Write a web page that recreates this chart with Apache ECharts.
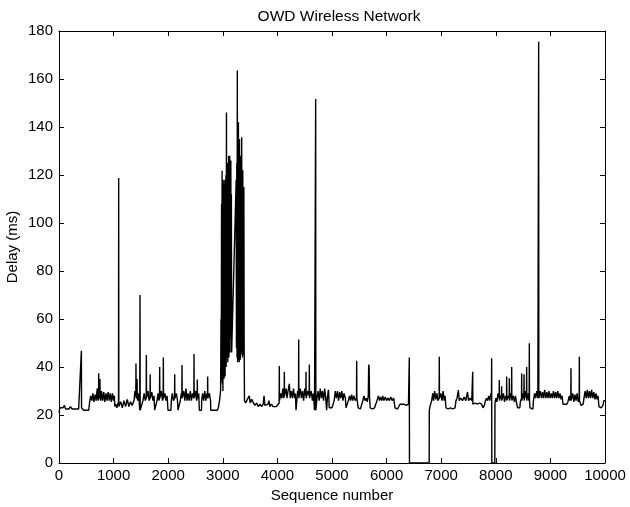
<!DOCTYPE html>
<html>
<head>
<meta charset="utf-8">
<script src="https://cdn.jsdelivr.net/npm/echarts@6/dist/echarts.min.js"></script>
<style>
    html, body { margin: 0; padding: 0; background: #fff; }
    #chart { width: 630px; height: 507px; }
</style>
</head>
<body>
<div id="chart"></div>
<script>
// axis ticks
var xTicks = { min: 0, max: 10000, step: 1000 };
var yTicks = { min: 0, max: 180, step: 20 };

// [sequence number, delay in ms]
var owdBeforeBurst = [
    [0, 21], [15, 23], [40, 22.5], [70, 23], [100, 24], [120, 22.5], [150, 23], [180, 22.5], [210, 23.5], [240, 22.5],
    [270, 23], [300, 22.5], [330, 23], [360, 22.5], [395, 23], [407, 23], [410, 46.8], [413, 23], [420, 23], [450, 22],
    [500, 22], [545, 22], [562, 25.5], [580, 28], [600, 26], [620, 29], [640, 25.5], [660, 28.5], [680, 26], [700, 31],
    [715, 26], [724, 27], [727, 37.4], [730, 27], [740, 27], [747, 27], [750, 35], [753, 27], [765, 26], [780, 30],
    [800, 26], [820, 29.5], [840, 25.5], [860, 29], [880, 26], [900, 29.5], [920, 26], [940, 29], [960, 25.5], [980, 29],
    [1000, 26], [1015, 28], [1022, 23.5], [1040, 24.5], [1060, 23], [1080, 25], [1090, 24], [1093, 118.8], [1096, 23.5], [1100, 23.5],
    [1130, 25.5], [1160, 23], [1190, 26], [1220, 23.5], [1250, 26.5], [1280, 23.5], [1310, 25.5], [1340, 24], [1374, 26], [1390, 30],
    [1407, 28], [1410, 41.5], [1413, 27], [1420, 27], [1427, 28], [1430, 35], [1433, 27], [1445, 26], [1460, 29], [1478, 22],
    [1481, 22], [1484, 70], [1487, 22], [1490, 22], [1520, 22.5], [1538, 26], [1560, 29], [1580, 26], [1597, 27], [1600, 45],
    [1603, 27], [1610, 27], [1630, 30], [1650, 26], [1667, 27], [1670, 37], [1673, 27], [1685, 27], [1700, 29.5], [1720, 26],
    [1740, 28], [1752, 22], [1785, 22], [1795, 26], [1815, 29], [1830, 26], [1841, 27], [1844, 40], [1847, 27], [1855, 27],
    [1875, 30], [1895, 26], [1908, 27], [1911, 44], [1914, 27], [1920, 27], [1940, 29], [1960, 26], [1980, 28], [1996, 22],
    [2050, 22], [2057, 26], [2075, 29], [2095, 26], [2116, 27], [2119, 37], [2122, 27], [2130, 27], [2150, 29], [2170, 26],
    [2180, 22], [2215, 22], [2222, 26], [2240, 29], [2250, 27], [2253, 40.8], [2256, 27], [2265, 27], [2285, 30], [2305, 26],
    [2325, 31], [2345, 26], [2365, 29], [2385, 26], [2405, 30], [2425, 26], [2445, 29], [2470, 27], [2473, 45.4], [2476, 27],
    [2485, 27], [2505, 30], [2520, 26], [2530, 27], [2533, 34.8], [2536, 27], [2545, 27], [2560, 29], [2570, 22], [2610, 22],
    [2613, 26], [2630, 29], [2650, 26], [2670, 30], [2690, 26], [2710, 29], [2720, 27], [2723, 36], [2726, 27], [2735, 27],
    [2755, 29], [2775, 26], [2780, 22], [2850, 22], [2900, 22], [2918, 23], [2940, 26], [2960, 30]
];

var owdBurst = [
    [2967, 60], [2972, 36], [2977, 108], [2982, 34], [2987, 121.8], [2992, 33], [2997, 112], [3002, 30], [3007, 118], [3012, 38],
    [3017, 110], [3022, 35], [3027, 116], [3032, 40], [3037, 118], [3042, 36], [3047, 112], [3052, 42], [3057, 120], [3062, 40],
    [3067, 146], [3072, 44], [3077, 115], [3082, 46], [3087, 125], [3092, 42], [3097, 112], [3102, 48], [3107, 128], [3112, 44],
    [3117, 118], [3122, 50], [3127, 128], [3132, 46], [3137, 120], [3142, 52], [3147, 126], [3152, 55], [3157, 112], [3162, 46],
    [3245, 118], [3250, 48], [3256, 125], [3261, 44], [3266, 163.5], [3271, 42], [3276, 130], [3281, 46], [3286, 142], [3291, 43],
    [3296, 124], [3301, 42], [3306, 135], [3311, 45], [3316, 120], [3321, 43], [3326, 128], [3331, 45], [3336, 118], [3341, 46],
    [3346, 135.7], [3351, 47], [3356, 115], [3361, 44], [3366, 122], [3371, 46], [3376, 110], [3381, 45], [3386, 115], [3391, 50]
];

var owdMiddle = [
    [3397, 26], [3420, 25], [3450, 26.5], [3486, 28], [3500, 25], [3530, 26.5], [3560, 25], [3590, 24], [3620, 25], [3650, 23.5],
    [3680, 24.5], [3710, 23.5], [3740, 24.5], [3755, 28], [3770, 24], [3800, 23.5], [3830, 24.5], [3846, 26], [3860, 23.5], [3890, 24.5],
    [3920, 23.5], [3950, 24], [3980, 23.5], [4010, 24], [4032, 25], [4035, 40.4], [4038, 26], [4045, 26], [4065, 29], [4080, 27],
    [4100, 31], [4115, 27], [4124, 28], [4127, 38], [4130, 28], [4140, 28], [4160, 31], [4175, 27], [4195, 30], [4218, 33],
    [4235, 27], [4255, 30], [4275, 27], [4295, 31], [4315, 27], [4330, 29], [4341, 22], [4355, 26], [4370, 30], [4387, 28],
    [4390, 51.5], [4393, 27], [4400, 27], [4420, 31], [4440, 27], [4460, 30], [4480, 26], [4500, 31], [4521, 28], [4524, 38],
    [4527, 27], [4540, 27], [4560, 30], [4582, 28], [4585, 41], [4588, 27], [4600, 27], [4620, 30], [4640, 26], [4660, 29],
    [4680, 22], [4698, 22], [4701, 151.7], [4704, 22], [4710, 22], [4725, 27], [4745, 30], [4765, 26], [4785, 31], [4805, 27],
    [4825, 30], [4845, 26], [4865, 31], [4885, 27], [4902, 22], [4915, 27], [4935, 30.5], [4950, 23], [4975, 22.5], [5000, 23],
    [5020, 22.5], [5040, 26], [5060, 30], [5080, 27], [5100, 30], [5120, 26], [5140, 29.5], [5160, 27], [5180, 30], [5200, 26],
    [5220, 29], [5245, 27], [5256, 23], [5285, 23], [5300, 26], [5320, 28], [5340, 26], [5360, 28.5], [5380, 26], [5400, 28],
    [5425, 26], [5449, 27], [5452, 42.6], [5455, 27], [5462, 27], [5480, 23], [5520, 22.5], [5550, 23], [5565, 26], [5585, 28],
    [5605, 26], [5625, 27], [5645, 25.5], [5665, 28], [5672, 41], [5680, 40], [5688, 27], [5700, 23], [5740, 22.5], [5780, 23],
    [5824, 26], [5850, 28], [5870, 26], [5890, 27.5], [5910, 26], [5930, 28], [5950, 26], [5975, 27.5], [6000, 26], [6025, 27],
    [6050, 26], [6075, 27.5], [6100, 26], [6130, 27], [6154, 23], [6200, 22.5], [6245, 24.5], [6280, 24], [6320, 24.5], [6360, 24],
    [6400, 24.5], [6413, 24.5], [6416, 44], [6419, 0]
];

var owdEnd = [
    [6780, 0], [6782, 22], [6800, 24], [6826, 26], [6845, 29], [6860, 26], [6880, 30], [6900, 26.5], [6920, 29], [6940, 26],
    [6962, 27], [6965, 44.3], [6968, 27], [6975, 27], [6995, 29], [7015, 26], [7035, 30], [7055, 26], [7070, 28], [7088, 23],
    [7130, 22.5], [7170, 23], [7210, 22.5], [7253, 23], [7271, 26], [7290, 27], [7314, 30.4], [7330, 26], [7360, 27], [7390, 26],
    [7420, 27.5], [7450, 26], [7482, 29.6], [7500, 26], [7530, 27], [7560, 26], [7574, 26], [7577, 38], [7580, 24.5], [7585, 24.5],
    [7620, 25], [7660, 24.5], [7700, 25], [7740, 24.5], [7766, 23], [7790, 24], [7810, 26], [7830, 27], [7850, 26], [7870, 28],
    [7890, 26], [7910, 29], [7921, 27], [7924, 43.6], [7927, 0], [7982, 0], [7985, 25], [8000, 27], [8020, 25.5], [8040, 29],
    [8061, 27], [8064, 34.6], [8067, 26], [8075, 26], [8090, 28], [8104, 27], [8107, 32], [8110, 26], [8120, 26], [8140, 29],
    [8160, 25.5], [8180, 28], [8196, 27], [8199, 36], [8202, 26], [8210, 26], [8230, 28], [8245, 27], [8248, 35.3], [8251, 26],
    [8260, 26], [8275, 29], [8288, 27], [8291, 40], [8294, 26], [8300, 26], [8320, 28], [8340, 25.5], [8360, 28], [8380, 25],
    [8400, 23], [8440, 23], [8450, 25.5], [8471, 27], [8474, 37.3], [8477, 26], [8485, 26], [8500, 29], [8514, 27], [8517, 37],
    [8520, 26], [8530, 26], [8545, 30], [8562, 27], [8565, 40], [8568, 26], [8575, 26], [8590, 29], [8605, 26], [8611, 27],
    [8614, 49.9], [8617, 26], [8620, 26], [8626, 23], [8680, 22.5], [8690, 26], [8710, 29], [8730, 27], [8750, 30], [8770, 27],
    [8782, 27], [8785, 175.5], [8788, 27], [8795, 27], [8815, 30], [8835, 27], [8855, 29.5], [8875, 27], [8895, 30.5], [8915, 27],
    [8935, 29.5], [8955, 27], [8975, 30], [8995, 27], [9015, 29], [9035, 27], [9055, 30], [9075, 27], [9095, 29.5], [9115, 27],
    [9135, 30], [9155, 27], [9175, 29], [9195, 26.5], [9215, 28], [9230, 24.5], [9260, 24], [9300, 24.5], [9322, 25.5], [9345, 28],
    [9360, 26], [9374, 27], [9377, 39.5], [9380, 26], [9390, 26], [9410, 29], [9430, 25.5], [9450, 28.5], [9470, 26], [9490, 29],
    [9510, 25.5], [9527, 27], [9530, 44.3], [9533, 26], [9540, 26], [9560, 24], [9600, 24.5], [9615, 27], [9635, 30], [9655, 27],
    [9675, 30.5], [9695, 27], [9715, 30], [9735, 27], [9755, 30.5], [9775, 27], [9795, 29.5], [9815, 26.5], [9835, 29], [9855, 26.5],
    [9872, 28], [9890, 23.5], [9930, 23], [9963, 24], [9980, 26], [10000, 26]
];

var fontFamily = "'Liberation Sans', Arial, sans-serif";
var textColor = "#000";

function boxAxis(position, ticks, show) {
    return {
        type: "value",
        position: position,
        min: ticks.min,
        max: ticks.max,
        interval: ticks.step,
        axisLine: { show: true, onZero: false, lineStyle: { color: "#000", width: 1 } },
        axisTick: { show: true, inside: true, length: 5, lineStyle: { color: "#000" } },
        axisLabel: {
            show: show,
            color: textColor,
            fontSize: 15,
            fontFamily: fontFamily,
            margin: 6,
            formatter: function (v) { return String(v); }
        },
        splitLine: { show: false }
    };
}

var chart = echarts.init(document.getElementById("chart"), null, { renderer: "canvas" });

var xBottom = boxAxis("bottom", xTicks, true);
xBottom.name = "Sequence number";
xBottom.nameLocation = "middle";
xBottom.nameGap = 22;
xBottom.nameTextStyle = { color: textColor, fontSize: 15, fontFamily: fontFamily };
xBottom.axisLabel.margin = 5;

var yLeft = boxAxis("left", yTicks, true);
yLeft.name = "Delay (ms)";
yLeft.nameLocation = "middle";
yLeft.nameGap = 39;
yLeft.nameRotate = 90;
yLeft.nameMoveOverlap = false;
yLeft.nameTextStyle = { color: textColor, fontSize: 15, fontFamily: fontFamily };

var option = {
    backgroundColor: "#fff",
    animation: false,
    title: {
        text: "OWD Wireless Network",
        left: 334,
        textAlign: "center",
        top: 4,
        textStyle: { color: textColor, fontSize: 15.5, fontWeight: "normal", fontFamily: fontFamily }
    },
    grid: { left: 59, right: 25, top: 31, bottom: 44, containLabel: false, outerBoundsMode: "none" },
    xAxis: [xBottom, boxAxis("top", xTicks, false)],
    yAxis: [yLeft, boxAxis("right", yTicks, false)],
    series: [
        {
            name: "OWD",
            type: "line",
            xAxisIndex: 0,
            yAxisIndex: 0,
            data: owdBeforeBurst.concat(owdBurst, owdMiddle, owdEnd),
            showSymbol: false,
            symbol: "none",
            sampling: null,
            lineStyle: { color: "#000", width: 1.4 },
            z: 1
        }
    ]
};

chart.setOption(option);
</script>
</body>
</html>
